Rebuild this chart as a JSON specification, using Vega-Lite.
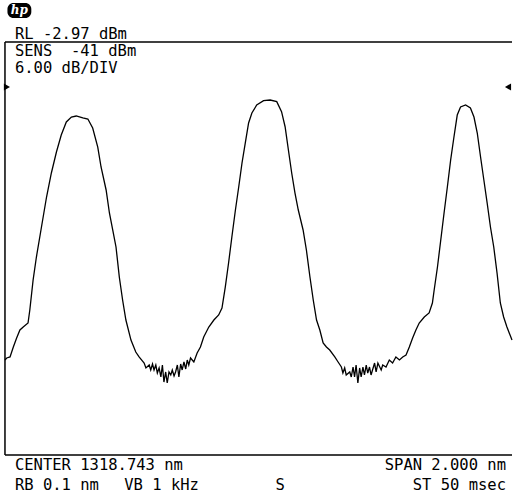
{
  "$schema": "https://vega.github.io/schema/vega-lite/v6.json",
  "width": 515,
  "height": 495,
  "autosize": {"type": "fit", "contains": "padding"},
  "padding": 0,
  "background": "white",
  "config": {"view": {"stroke": null}},
  "datasets": {
    "trace": [
      {"nm": 1317.743, "dBm": -49.17}, {"nm": 1317.750, "dBm": -48.88}, {"nm": 1317.763, "dBm": -48.73},
      {"nm": 1317.776, "dBm": -47.28}, {"nm": 1317.789, "dBm": -45.97}, {"nm": 1317.802, "dBm": -44.81},
      {"nm": 1317.815, "dBm": -44.38}, {"nm": 1317.834, "dBm": -43.80}, {"nm": 1317.841, "dBm": -41.91},
      {"nm": 1317.854, "dBm": -37.55}, {"nm": 1317.867, "dBm": -34.21}, {"nm": 1317.887, "dBm": -29.85},
      {"nm": 1317.907, "dBm": -25.49}, {"nm": 1317.926, "dBm": -22.00}, {"nm": 1317.946, "dBm": -18.95},
      {"nm": 1317.965, "dBm": -16.48}, {"nm": 1317.985, "dBm": -14.59}, {"nm": 1318.005, "dBm": -13.87},
      {"nm": 1318.024, "dBm": -13.72}, {"nm": 1318.050, "dBm": -14.01}, {"nm": 1318.070, "dBm": -14.16},
      {"nm": 1318.089, "dBm": -15.46}, {"nm": 1318.109, "dBm": -18.23}, {"nm": 1318.122, "dBm": -21.13},
      {"nm": 1318.142, "dBm": -24.47}, {"nm": 1318.155, "dBm": -27.81}, {"nm": 1318.168, "dBm": -30.28},
      {"nm": 1318.181, "dBm": -32.75}, {"nm": 1318.194, "dBm": -37.11}, {"nm": 1318.207, "dBm": -40.45},
      {"nm": 1318.220, "dBm": -43.36}, {"nm": 1318.240, "dBm": -46.27}, {"nm": 1318.259, "dBm": -48.01},
      {"nm": 1318.272, "dBm": -48.73}, {"nm": 1318.292, "dBm": -49.61}, {"nm": 1318.299, "dBm": -50.33},
      {"nm": 1318.312, "dBm": -49.90}, {"nm": 1318.318, "dBm": -50.62}, {"nm": 1318.325, "dBm": -49.75},
      {"nm": 1318.331, "dBm": -50.62}, {"nm": 1318.338, "dBm": -49.90}, {"nm": 1318.344, "dBm": -51.06},
      {"nm": 1318.351, "dBm": -50.33}, {"nm": 1318.358, "dBm": -51.64}, {"nm": 1318.364, "dBm": -49.90},
      {"nm": 1318.370, "dBm": -52.37}, {"nm": 1318.377, "dBm": -50.91}, {"nm": 1318.383, "dBm": -52.51},
      {"nm": 1318.390, "dBm": -50.91}, {"nm": 1318.397, "dBm": -51.35}, {"nm": 1318.403, "dBm": -50.62},
      {"nm": 1318.410, "dBm": -51.50}, {"nm": 1318.416, "dBm": -50.91}, {"nm": 1318.423, "dBm": -49.90},
      {"nm": 1318.429, "dBm": -51.64}, {"nm": 1318.436, "dBm": -49.75}, {"nm": 1318.442, "dBm": -50.62},
      {"nm": 1318.449, "dBm": -49.46}, {"nm": 1318.456, "dBm": -50.48}, {"nm": 1318.462, "dBm": -49.17},
      {"nm": 1318.468, "dBm": -49.90}, {"nm": 1318.475, "dBm": -48.88}, {"nm": 1318.488, "dBm": -49.46},
      {"nm": 1318.501, "dBm": -48.15}, {"nm": 1318.514, "dBm": -47.28}, {"nm": 1318.527, "dBm": -45.83},
      {"nm": 1318.547, "dBm": -44.38}, {"nm": 1318.567, "dBm": -43.36}, {"nm": 1318.586, "dBm": -42.63},
      {"nm": 1318.599, "dBm": -41.62}, {"nm": 1318.612, "dBm": -38.57}, {"nm": 1318.625, "dBm": -35.08},
      {"nm": 1318.638, "dBm": -31.30}, {"nm": 1318.652, "dBm": -27.38}, {"nm": 1318.665, "dBm": -24.04},
      {"nm": 1318.678, "dBm": -20.55}, {"nm": 1318.691, "dBm": -17.64}, {"nm": 1318.704, "dBm": -14.74},
      {"nm": 1318.717, "dBm": -13.29}, {"nm": 1318.736, "dBm": -12.12}, {"nm": 1318.763, "dBm": -11.50},
      {"nm": 1318.789, "dBm": -11.40}, {"nm": 1318.815, "dBm": -11.64}, {"nm": 1318.834, "dBm": -13.10},
      {"nm": 1318.848, "dBm": -15.28}, {"nm": 1318.861, "dBm": -18.66}, {"nm": 1318.874, "dBm": -22.00},
      {"nm": 1318.887, "dBm": -24.91}, {"nm": 1318.900, "dBm": -27.38}, {"nm": 1318.919, "dBm": -30.28},
      {"nm": 1318.932, "dBm": -33.19}, {"nm": 1318.946, "dBm": -37.11}, {"nm": 1318.959, "dBm": -40.45},
      {"nm": 1318.972, "dBm": -43.36}, {"nm": 1318.985, "dBm": -44.81}, {"nm": 1318.998, "dBm": -46.70},
      {"nm": 1319.011, "dBm": -47.28}, {"nm": 1319.024, "dBm": -47.72}, {"nm": 1319.044, "dBm": -48.73},
      {"nm": 1319.057, "dBm": -49.46}, {"nm": 1319.070, "dBm": -50.19}, {"nm": 1319.076, "dBm": -51.06},
      {"nm": 1319.083, "dBm": -50.33}, {"nm": 1319.089, "dBm": -51.35}, {"nm": 1319.103, "dBm": -50.91},
      {"nm": 1319.109, "dBm": -51.64}, {"nm": 1319.116, "dBm": -50.19}, {"nm": 1319.122, "dBm": -51.64},
      {"nm": 1319.128, "dBm": -49.90}, {"nm": 1319.135, "dBm": -52.51}, {"nm": 1319.142, "dBm": -50.33},
      {"nm": 1319.148, "dBm": -51.64}, {"nm": 1319.155, "dBm": -50.19}, {"nm": 1319.161, "dBm": -51.35},
      {"nm": 1319.168, "dBm": -49.90}, {"nm": 1319.174, "dBm": -51.06}, {"nm": 1319.181, "dBm": -50.19},
      {"nm": 1319.187, "dBm": -51.35}, {"nm": 1319.201, "dBm": -49.61}, {"nm": 1319.207, "dBm": -50.91},
      {"nm": 1319.214, "dBm": -49.61}, {"nm": 1319.227, "dBm": -50.62}, {"nm": 1319.233, "dBm": -49.90},
      {"nm": 1319.246, "dBm": -50.19}, {"nm": 1319.259, "dBm": -49.17}, {"nm": 1319.272, "dBm": -49.61},
      {"nm": 1319.285, "dBm": -48.73}, {"nm": 1319.299, "dBm": -49.17}, {"nm": 1319.312, "dBm": -48.73},
      {"nm": 1319.325, "dBm": -48.44}, {"nm": 1319.338, "dBm": -47.28}, {"nm": 1319.351, "dBm": -45.97},
      {"nm": 1319.364, "dBm": -44.81}, {"nm": 1319.377, "dBm": -43.80}, {"nm": 1319.397, "dBm": -42.92},
      {"nm": 1319.416, "dBm": -42.34}, {"nm": 1319.429, "dBm": -40.89}, {"nm": 1319.436, "dBm": -39.00},
      {"nm": 1319.449, "dBm": -35.66}, {"nm": 1319.462, "dBm": -31.74}, {"nm": 1319.475, "dBm": -27.81},
      {"nm": 1319.488, "dBm": -24.04}, {"nm": 1319.501, "dBm": -20.11}, {"nm": 1319.514, "dBm": -16.77},
      {"nm": 1319.527, "dBm": -13.58}, {"nm": 1319.540, "dBm": -12.41}, {"nm": 1319.560, "dBm": -12.12},
      {"nm": 1319.579, "dBm": -12.56}, {"nm": 1319.593, "dBm": -13.87}, {"nm": 1319.606, "dBm": -16.19},
      {"nm": 1319.619, "dBm": -19.68}, {"nm": 1319.632, "dBm": -23.02}, {"nm": 1319.645, "dBm": -26.36},
      {"nm": 1319.658, "dBm": -29.85}, {"nm": 1319.671, "dBm": -32.75}, {"nm": 1319.684, "dBm": -36.53},
      {"nm": 1319.697, "dBm": -40.89}, {"nm": 1319.710, "dBm": -42.92}, {"nm": 1319.723, "dBm": -44.38},
      {"nm": 1319.743, "dBm": -46.27}
    ],
    "frame": [
      {"x1": 1317.743, "x2": 1319.743, "y1": -2.97, "y2": -2.97},
      {"x1": 1317.743, "x2": 1317.743, "y1": -2.97, "y2": -62.97},
      {"x1": 1317.743, "x2": 1319.743, "y1": -62.97, "y2": -62.97}
    ],
    "leftLabels": [
      {"text": "RL -2.97 dBm", "nm": 1317.7822, "dBm": -1.81},
      {"text": "SENS\u00a0\u00a0-41 dBm", "nm": 1317.7822, "dBm": -4.28},
      {"text": "6.00 dB/DIV", "nm": 1317.7822, "dBm": -6.75},
      {"text": "CENTER 1318.743 nm", "nm": 1317.7822, "dBm": -64.43},
      {"text": "RB 0.1 nm", "nm": 1317.7822, "dBm": -67.33},
      {"text": "VB 1 kHz", "nm": 1318.2136, "dBm": -67.33},
      {"text": "S", "nm": 1318.8097, "dBm": -67.33}
    ],
    "rightLabels": [
      {"text": "SPAN 2.000 nm", "nm": 1319.7195, "dBm": -64.43},
      {"text": "ST 50 msec", "nm": 1319.7195, "dBm": -67.33}
    ],
    "markers": [
      {"side": "left", "nm": 1317.7508, "dBm": -9.51},
      {"side": "right", "nm": 1319.7273, "dBm": -9.51}
    ],
    "logo": [
      {"x1": 1317.7528, "x2": 1317.8469, "y1": 2.696, "y2": 0.517, "nm": 1317.7999, "dBm": 1.607, "text": "hp"}
    ]
  },
  "layer": [
    {
      "data": {"name": "frame"},
      "mark": {"type": "rule", "color": "black", "strokeWidth": 1.5},
      "encoding": {
        "x": {"field": "x1", "type": "quantitative", "scale": {"domain": [1317.7234, 1319.743], "nice": false, "zero": false}, "axis": null},
        "x2": {"field": "x2"},
        "y": {"field": "y1", "type": "quantitative", "scale": {"domain": [-68.784, 3.132], "nice": false, "zero": false}, "axis": null},
        "y2": {"field": "y2"}
      }
    },
    {
      "data": {"name": "trace"},
      "mark": {"type": "line", "color": "black", "strokeWidth": 1.3},
      "encoding": {
        "x": {"field": "nm", "type": "quantitative", "scale": {"domain": [1317.7234, 1319.743], "nice": false, "zero": false}, "axis": null},
        "y": {"field": "dBm", "type": "quantitative", "scale": {"domain": [-68.784, 3.132], "nice": false, "zero": false}, "axis": null}
      }
    },
    {
      "data": {"name": "leftLabels"},
      "mark": {"type": "text", "align": "left", "baseline": "middle", "font": "DejaVu Sans Mono", "fontSize": 15.5, "color": "black"},
      "encoding": {
        "x": {"field": "nm", "type": "quantitative"},
        "y": {"field": "dBm", "type": "quantitative"},
        "text": {"field": "text"}
      }
    },
    {
      "data": {"name": "rightLabels"},
      "mark": {"type": "text", "align": "right", "baseline": "middle", "font": "DejaVu Sans Mono", "fontSize": 15.5, "color": "black"},
      "encoding": {
        "x": {"field": "nm", "type": "quantitative"},
        "y": {"field": "dBm", "type": "quantitative"},
        "text": {"field": "text"}
      }
    },
    {
      "data": {"name": "markers"},
      "mark": {"type": "point", "filled": true, "color": "black", "size": 50, "opacity": 1},
      "encoding": {
        "x": {"field": "nm", "type": "quantitative"},
        "y": {"field": "dBm", "type": "quantitative"},
        "shape": {"field": "side", "type": "nominal", "scale": {"domain": ["left", "right"], "range": ["triangle-right", "triangle-left"]}, "legend": null}
      }
    },
    {
      "data": {"name": "logo"},
      "mark": {"type": "rect", "color": "black", "cornerRadius": 6},
      "encoding": {
        "x": {"field": "x1", "type": "quantitative"},
        "x2": {"field": "x2"},
        "y": {"field": "y1", "type": "quantitative"},
        "y2": {"field": "y2"}
      }
    },
    {
      "data": {"name": "logo"},
      "mark": {"type": "text", "align": "center", "baseline": "middle", "font": "DejaVu Serif", "fontSize": 12, "fontStyle": "italic", "fontWeight": "bold", "color": "white"},
      "encoding": {
        "x": {"field": "nm", "type": "quantitative"},
        "y": {"field": "dBm", "type": "quantitative"},
        "text": {"field": "text"}
      }
    }
  ]
}
